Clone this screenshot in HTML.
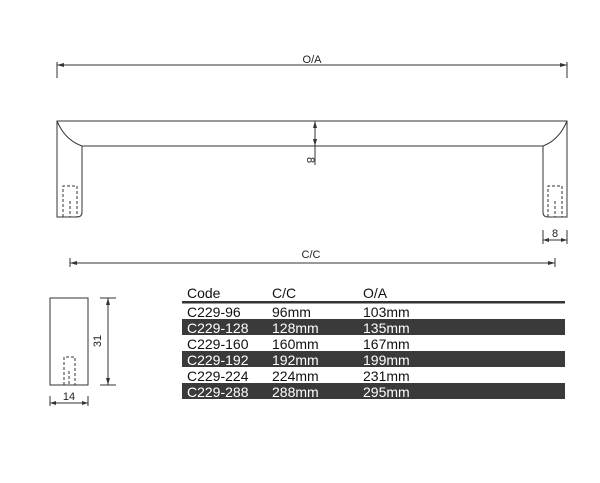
<!DOCTYPE html>
<html><head><style>
body{margin:0;background:#fff;}
svg{display:block;font-family:"Liberation Sans",sans-serif;}
</style></head><body>
<svg width="600" height="483" viewBox="0 0 600 483" xmlns="http://www.w3.org/2000/svg">
<g stroke="#333" stroke-width="1" fill="none">
<line x1="57" y1="62" x2="57" y2="78"/><line x1="567" y1="62" x2="567" y2="78"/>
<line x1="57" y1="65" x2="567" y2="65"/>
<path d="M57,121 L567,121 L567,217 L548,217 Q543,217 543,212 L543,146 L82,146 L82,212 Q82,217 77,217 L57,217 Z"/>
<path d="M57,121 Q65,140 82,146"/><path d="M567,121 Q559,140 543,146"/>
<g stroke-dasharray="3,2">
<path d="M63,217 L63,186 L77,186 L77,217"/><line x1="70" y1="201" x2="70" y2="217"/>
<path d="M548,217 L548,186 L562,186 L562,217"/><line x1="555" y1="201" x2="555" y2="217"/>
</g>
<line x1="315" y1="121" x2="315" y2="165"/>
<line x1="543" y1="230" x2="543" y2="244"/><line x1="567" y1="230" x2="567" y2="244"/>
<line x1="543" y1="240" x2="567" y2="240"/>
<line x1="70" y1="258" x2="70" y2="267"/><line x1="555" y1="258" x2="555" y2="267"/>
<line x1="70" y1="263" x2="555" y2="263"/>
<rect x="50" y="298" width="38" height="87"/>
<g stroke-dasharray="3,2"><path d="M64,385 L64,357 L75,357 L75,385"/><line x1="69" y1="371" x2="69" y2="385"/></g>
<line x1="100" y1="298" x2="116" y2="298"/><line x1="100" y1="385" x2="116" y2="385"/>
<line x1="108" y1="298" x2="108" y2="385"/>
<line x1="50" y1="396" x2="50" y2="406"/><line x1="88" y1="396" x2="88" y2="406"/>
<line x1="50" y1="403" x2="88" y2="403"/>
</g>
<g fill="#333">
<path d="M57,65 l7,-2 v4z"/><path d="M567,65 l-7,-2 v4z"/>
<path d="M315,121 l-2,7 h4z"/><path d="M315,146 l-2,-7 h4z"/>
<path d="M543,240 l6,-2 v4z"/><path d="M567,240 l-6,-2 v4z"/>
<path d="M70,263 l7,-2 v4z"/><path d="M555,263 l-7,-2 v4z"/>
<path d="M108,298 l-2,7 h4z"/><path d="M108,385 l-2,-7 h4z"/>
<path d="M50,403 l6,-2 v4z"/><path d="M88,403 l-6,-2 v4z"/>
</g>
<g fill="#222" font-size="11">
<text x="312" y="63" text-anchor="middle">O/A</text>
<text x="311" y="258" text-anchor="middle">C/C</text>
<text x="555" y="237" text-anchor="middle">8</text>
<text x="69" y="400" text-anchor="middle">14</text>
<text transform="translate(307,160) rotate(90)" text-anchor="middle">8</text>
<text transform="translate(101,341) rotate(-90)" text-anchor="middle">31</text>
</g>
<rect x="182" y="301" width="383" height="2.5" fill="#333"/>
<rect x="182" y="319" width="383" height="16" fill="#3a3a3a"/>
<rect x="182" y="351" width="383" height="16" fill="#3a3a3a"/>
<rect x="182" y="383" width="383" height="16" fill="#3a3a3a"/>
<g font-size="14" fill="#111">
<text x="187" y="298">Code</text><text x="272" y="298">C/C</text><text x="363" y="298">O/A</text>
<text x="187" y="317">C229-96</text><text x="272" y="317">96mm</text><text x="363" y="317">103mm</text>
<text x="187" y="349">C229-160</text><text x="272" y="349">160mm</text><text x="363" y="349">167mm</text>
<text x="187" y="381">C229-224</text><text x="272" y="381">224mm</text><text x="363" y="381">231mm</text>
</g>
<g font-size="14" fill="#fff">
<text x="187" y="333">C229-128</text><text x="272" y="333">128mm</text><text x="363" y="333">135mm</text>
<text x="187" y="365">C229-192</text><text x="272" y="365">192mm</text><text x="363" y="365">199mm</text>
<text x="187" y="397">C229-288</text><text x="272" y="397">288mm</text><text x="363" y="397">295mm</text>
</g>
</svg>
</body></html>
